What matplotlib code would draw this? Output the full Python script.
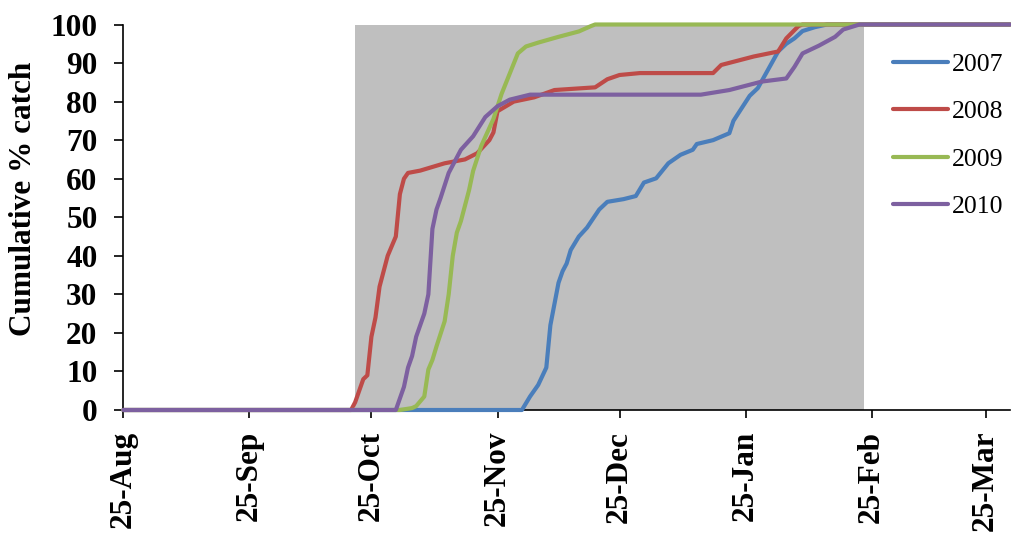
import matplotlib
matplotlib.use("Agg")
import matplotlib.pyplot as plt
import pandas as pd

# ---- data (season dates, Aug..Mar) ----
seasons = ["2007", "2008", "2009", "2010"]
colors = ["#4A7EBB", "#BE4B48", "#98B954", "#7D60A0"]

dates_2007 = ["08-25", "12-01", "12-03", "12-05", "12-07", "12-08", "12-10", "12-11", "12-12",
              "12-13", "12-15", "12-17", "12-20", "12-22", "12-26", "12-29", "12-31", "01-03",
              "01-06", "01-09", "01-12", "01-13", "01-17", "01-21", "01-22", "01-26", "01-28",
              "02-02", "02-04", "02-06", "02-08", "02-11", "02-14", "03-31"]
pct_2007 = [0, 0, 3.5, 6.5, 11, 22, 33, 36, 38,
            41.5, 45, 47.3, 52, 54, 54.7, 55.5, 59, 60.1,
            64, 66.2, 67.5, 69, 70, 71.8, 75, 81.5, 83.5,
            93, 95, 96.4, 98.3, 99.3, 100, 100]

dates_2008 = ["08-25", "10-20", "10-21", "10-23", "10-24", "10-25", "10-26", "10-27", "10-28",
              "10-29", "10-31", "11-01", "11-02", "11-03", "11-06", "11-12", "11-17", "11-20",
              "11-23", "11-24", "11-25", "11-29", "12-04", "12-09", "12-19", "12-22", "12-25",
              "12-30", "01-17", "01-19", "01-27", "02-02", "02-04", "02-07", "02-08", "03-31"]
pct_2008 = [0, 0, 2, 8, 9, 19, 24, 32, 36,
            40, 45, 56, 60, 61.5, 62.1, 64, 65, 66.6,
            70, 72, 77.5, 80, 81.1, 83, 83.7, 85.8, 86.9,
            87.4, 87.4, 89.5, 91.7, 93, 96.4, 99.6, 100, 100]

dates_2009 = ["08-25", "11-01", "11-04", "11-05", "11-07", "11-08", "11-09", "11-10", "11-12",
              "11-13", "11-14", "11-15", "11-16", "11-17", "11-18", "11-19", "11-21", "11-24",
              "11-26", "11-30", "12-02", "12-05", "12-10", "12-15", "12-18", "12-19", "03-31"]
pct_2009 = [0, 0, 0.5, 1, 3.5, 10.5, 13, 16.5, 23,
            30, 40, 46, 49, 53, 57, 62, 68.5, 75.5,
            82, 92.5, 94.3, 95.3, 96.8, 98.2, 99.6, 100, 100]

dates_2010 = ["08-25", "10-31", "11-01", "11-02", "11-03", "11-04", "11-05", "11-06", "11-07",
              "11-08", "11-09", "11-10", "11-11", "11-13", "11-16", "11-19", "11-22", "11-25",
              "11-28", "12-03", "01-14", "01-21", "01-29", "02-04", "02-06", "02-08", "02-12",
              "02-16", "02-18", "02-22", "03-31"]
pct_2010 = [0, 0, 3, 6, 11, 14, 19, 22, 25,
            30, 47, 52, 55, 61.5, 67.5, 71, 76, 78.8,
            80.5, 81.8, 81.8, 83, 85.2, 86, 89, 92.5, 94.5,
            96.8, 98.7, 100, 100]

shade_start, shade_end = "10-21", "02-23"
x_min, x_max = "08-25", "03-31"
tick_dates = ["08-25", "09-25", "10-25", "11-25", "12-25", "01-25", "02-25", "03-25"]
tick_labels = ["25-Aug", "25-Sep", "25-Oct", "25-Nov", "25-Dec", "25-Jan", "25-Feb", "25-Mar"]


def to_dt(md):
    m = int(md[:2])
    year = 2001 if m >= 8 else 2002
    return pd.Timestamp(f"{year}-{md}")


series = [(dates_2007, pct_2007), (dates_2008, pct_2008),
          (dates_2009, pct_2009), (dates_2010, pct_2010)]

plt.rcParams["font.family"] = ["Liberation Serif", "DejaVu Serif"]

W, H = 1011, 533
fig = plt.figure(figsize=(W / 100, H / 100), dpi=100)
ax = fig.add_axes([123.3 / W, (H - 410) / H, (1010 - 123.3) / W, (410 - 24.5) / H])

ax.axvspan(to_dt(shade_start), to_dt(shade_end), ymin=0, ymax=1,
           color="#BFBFBF", lw=0, zorder=0)

for name, col, (d, v) in zip(seasons, colors, series):
    ax.plot([to_dt(s) for s in d], v, color=col, lw=3, label=name,
            solid_joinstyle="round", solid_capstyle="round", zorder=3, clip_on=False)

ax.set_xlim(to_dt(x_min), to_dt(x_max))
ax.set_ylim(0, 100)
ax.set_yticks(range(0, 101, 10))
ax.set_xticks([to_dt(s) for s in tick_dates])
ax.set_xticklabels(tick_labels, rotation=90)

for sp in ["top", "right"]:
    ax.spines[sp].set_visible(False)
for sp in ["left", "bottom"]:
    ax.spines[sp].set_linewidth(1.2)
    ax.spines[sp].set_color("black")

ax.tick_params(axis="y", direction="out", length=6.5, width=1.2, pad=12,
               labelsize=22.5)
ax.tick_params(axis="x", direction="out", length=6, width=1.2, pad=9,
               labelsize=22.5)
for lab in ax.get_xticklabels() + ax.get_yticklabels():
    lab.set_fontweight("bold")

fig.text(24 / W, (H - 199) / H, "Cumulative % catch", rotation=90,
         ha="center", va="center", fontsize=22.5, fontweight="bold")

leg = ax.legend(loc="upper left", bbox_to_anchor=(893 / W, 1 - 53 / H),
                bbox_transform=fig.transFigure, frameon=False, fontsize=18.5,
                handlelength=2.15, handletextpad=0.15, labelspacing=0.95,
                borderpad=0, borderaxespad=0)
for line in leg.get_lines():
    line.set_linewidth(3)

fig.savefig("out.png", dpi=100)
